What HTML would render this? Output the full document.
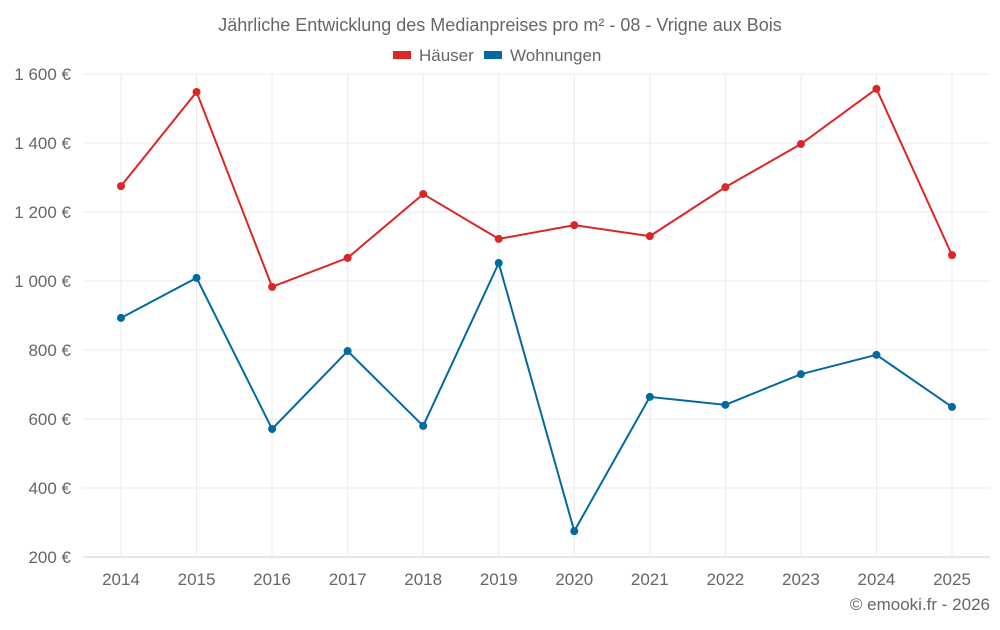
<!DOCTYPE html>
<html><head><meta charset="utf-8"><style>
body{margin:0;background:#fff;font-family:"Liberation Sans",sans-serif}
svg text{font-family:"Liberation Sans",sans-serif;fill:#666}
</style></head><body>
<svg id="c" width="1000" height="625">
<text x="500" y="31" text-anchor="middle" font-size="18">Jährliche Entwicklung des Medianpreises pro m² - 08 - Vrigne aux Bois</text>
<g>
<rect x="393" y="51" width="18" height="8" fill="#dc2626"/>
<text x="419" y="61" font-size="17">Häuser</text>
<rect x="484" y="51" width="18" height="8" fill="#0369a1"/>
<text x="510" y="61" font-size="17">Wohnungen</text>
</g>
<g id="grid"></g><g id="axes"></g><g id="series"></g>
<text x="990" y="610" text-anchor="end" font-size="17">© emooki.fr - 2026</text>
</svg>
<script>
const years=[2014,2015,2016,2017,2018,2019,2020,2021,2022,2023,2024,2025];
const hauser=[1275,1548,983,1067,1252,1122,1162,1130,1272,1397,1557,1075];
const wohnungen=[893,1009,571,797,580,1052,275,664,641,730,786,635];
const yTicks=[200,400,600,800,1000,1200,1400,1600];
const yTickLabels=["200 €","400 €","600 €","800 €","1 000 €","1 200 €","1 400 €","1 600 €"];
const NS="http://www.w3.org/2000/svg";
const L=83,R=990,T=74,B=557;
const x=i=>121+i*(952-121)/(years.length-1);
const y=v=>B-(v-200)/(1600-200)*(B-T);
function mk(t,a,p){const e=document.createElementNS(NS,t);for(const k in a)e.setAttribute(k,a[k]);p.appendChild(e);return e;}
const g=document.getElementById('grid'),ax=document.getElementById('axes'),s=document.getElementById('series');
yTicks.forEach((v,i)=>{
 const l=mk('line',{x1:L,x2:R,y1:y(v),y2:y(v),stroke:i==0?'#ccc':'#ebebeb'},g);
 
 
 const t=mk('text',{x:71,y:y(v)+6,'text-anchor':'end','font-size':17},ax);t.textContent=yTickLabels[i];
 
 
});
years.forEach((yr,i)=>{
 const l=mk('line',{x1:x(i),x2:x(i),y1:T,y2:B,stroke:'#ebebeb'},g);
 
 
 const t=mk('text',{x:x(i),y:585,'text-anchor':'middle','font-size':17},ax);t.textContent=yr;
 
 
});
[[hauser,'#dc2626','hauser'],[wohnungen,'#0369a1','wohnungen']].forEach(([d,c,n])=>{
 const p=mk('polyline',{points:d.map((v,i)=>x(i)+','+y(v)).join(' '),fill:'none',stroke:c,'stroke-width':2},s);
 
 
 d.forEach((v,i)=>{const ci=mk('circle',{cx:x(i),cy:y(v),r:4,fill:c},s);
  
  });
});
</script>
</body></html>
